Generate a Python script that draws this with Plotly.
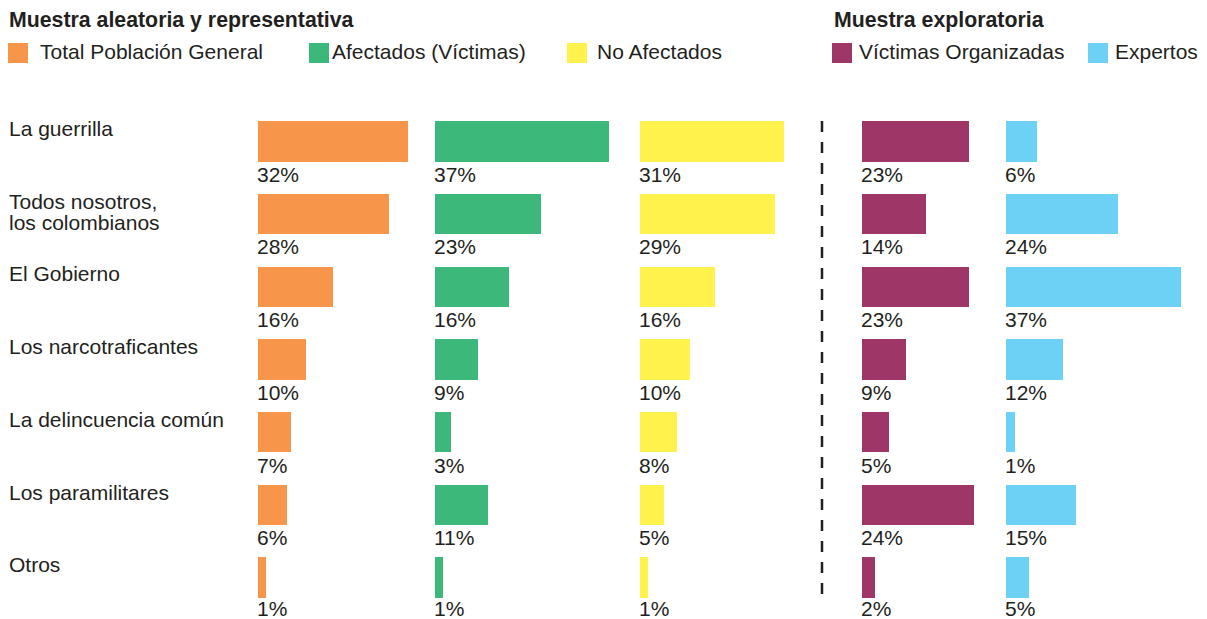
import plotly.graph_objects as go

W, H = 1207, 619

categories = [
    "La guerrilla",
    "Todos nosotros,<br>los colombianos",
    "El Gobierno",
    "Los narcotraficantes",
    "La delincuencia común",
    "Los paramilitares",
    "Otros",
]

series_names = ["Total Población General", "Afectados (Víctimas)", "No Afectados",
                "Víctimas Organizadas", "Expertos"]

# bar lengths (percent)
total_vals = [32.0, 28.0, 16.0, 10.3, 7.0, 6.2, 1.7]
afect_vals = [37.2, 22.6, 15.8, 9.2, 3.4, 11.3, 1.7]
noaf_vals = [30.8, 28.8, 16.0, 10.7, 7.9, 5.1, 1.7]
vorg_vals = [22.9, 13.7, 22.9, 9.4, 5.8, 23.9, 2.8]
expe_vals = [6.6, 23.9, 37.4, 12.2, 1.9, 15.0, 4.9]

# printed labels
total_lbl = ["32%", "28%", "16%", "10%", "7%", "6%", "1%"]
afect_lbl = ["37%", "23%", "16%", "9%", "3%", "11%", "1%"]
noaf_lbl = ["31%", "29%", "16%", "10%", "8%", "5%", "1%"]
vorg_lbl = ["23%", "14%", "23%", "9%", "5%", "24%", "2%"]
expe_lbl = ["6%", "24%", "37%", "12%", "1%", "15%", "5%"]

group_titles = ["Muestra aleatoria y representativa", "Muestra exploratoria"]

colors = ["#F7964A", "#3CB97A", "#FFF24C", "#9E3668", "#6DD0F5"]
TXT = "#231f20"
FONT = "Liberation Sans, Arial, Helvetica, sans-serif"
FS = 21

values = [total_vals, afect_vals, noaf_vals, vorg_vals, expe_vals]
labels = [total_lbl, afect_lbl, noaf_lbl, vorg_lbl, expe_lbl]

starts_px = [258, 435, 640, 862, 1006]
DOM_W = 180
PX_PER = 4.68

fig = go.Figure()
layout = dict(
    width=W, height=H, margin=dict(l=0, r=0, t=0, b=0),
    paper_bgcolor="white", plot_bgcolor="white",
    showlegend=False, bargap=0,
    font=dict(family=FONT, color=TXT, size=FS),
)

# y axis geometry
row_top_px = 104.9
row_bot_px = 613.85
layout["yaxis"] = dict(
    domain=[1 - row_bot_px / H, 1 - row_top_px / H],
    type="category", categoryorder="array", categoryarray=categories,
    range=[6.5, -0.5], showticklabels=False, showgrid=False,
    zeroline=False, showline=False, fixedrange=True,
)

annotations = []
n = len(categories)
for i, (vals, lbls, col, s) in enumerate(zip(values, labels, colors, starts_px)):
    ax = "x" if i == 0 else f"x{i+1}"
    axkey = "xaxis" if i == 0 else f"xaxis{i+1}"
    layout[axkey] = dict(
        domain=[s / W, (s + DOM_W) / W], range=[0, DOM_W / PX_PER],
        showticklabels=False, showgrid=False, zeroline=False, showline=False,
        anchor="y", fixedrange=True,
    )
    fig.add_trace(go.Bar(
        x=vals, y=categories, orientation="h", xaxis=ax, yaxis="y",
        marker=dict(color=col, line=dict(width=0)), width=0.557,
        hoverinfo="skip", name=series_names[i],
    ))
    for k, (cat, lb) in enumerate(zip(categories, lbls)):
        annotations.append(dict(
            xref=ax, yref="y", x=0, y=cat, text=lb, showarrow=False,
            xanchor="left", yanchor="middle", xshift=-2,
            yshift=-33 if k < n - 1 else -31, borderpad=0,
            font=dict(size=FS, color=TXT, family=FONT),
        ))

# category labels (split lines to control line spacing)
for cat in categories:
    for j, line in enumerate(cat.split("<br>")):
        annotations.append(dict(
            xref="paper", yref="y", x=7 / W, y=cat, text=line, showarrow=False,
            xanchor="left", yanchor="middle", yshift=12.75 - 21 * j,
            font=dict(size=FS, color=TXT, family=FONT),
        ))

# group titles
for t, xp in zip(group_titles, [7, 832]):
    annotations.append(dict(
        xref="paper", yref="paper", x=xp / W, y=1 - 20 / H, text=f"<b>{t}</b>",
        showarrow=False, xanchor="left", yanchor="middle",
        font=dict(size=21.3, color=TXT, family=FONT),
    ))

# legend (manual)
shapes = []
leg_sq_x = [8, 309, 567, 832, 1088]
leg_txt_x = [38, 330, 595, 857, 1113]
for name, col, sx, tx in zip(series_names, colors, leg_sq_x, leg_txt_x):
    shapes.append(dict(type="rect", xref="paper", yref="paper",
                       x0=sx / W, x1=(sx + 20) / W, y0=1 - 63 / H, y1=1 - 43 / H,
                       fillcolor=col, line=dict(width=0)))
    annotations.append(dict(
        xref="paper", yref="paper", x=tx / W, y=1 - 51.5 / H, text=name,
        showarrow=False, xanchor="left", yanchor="middle",
        font=dict(size=FS, color=TXT, family=FONT),
    ))

# dashed separator
shapes.append(dict(type="line", xref="paper", yref="paper",
                   x0=822 / W, x1=822 / W, y0=1 - 121 / H, y1=1 - 599 / H,
                   line=dict(color=TXT, width=2.5, dash="11px,10px")))

layout["annotations"] = annotations
layout["shapes"] = shapes
fig.update_layout(**layout)
fig.write_html("out.html", config={"displayModeBar": False},
               post_script="document.body.style.margin='0';document.body.style.overflow='hidden';")
